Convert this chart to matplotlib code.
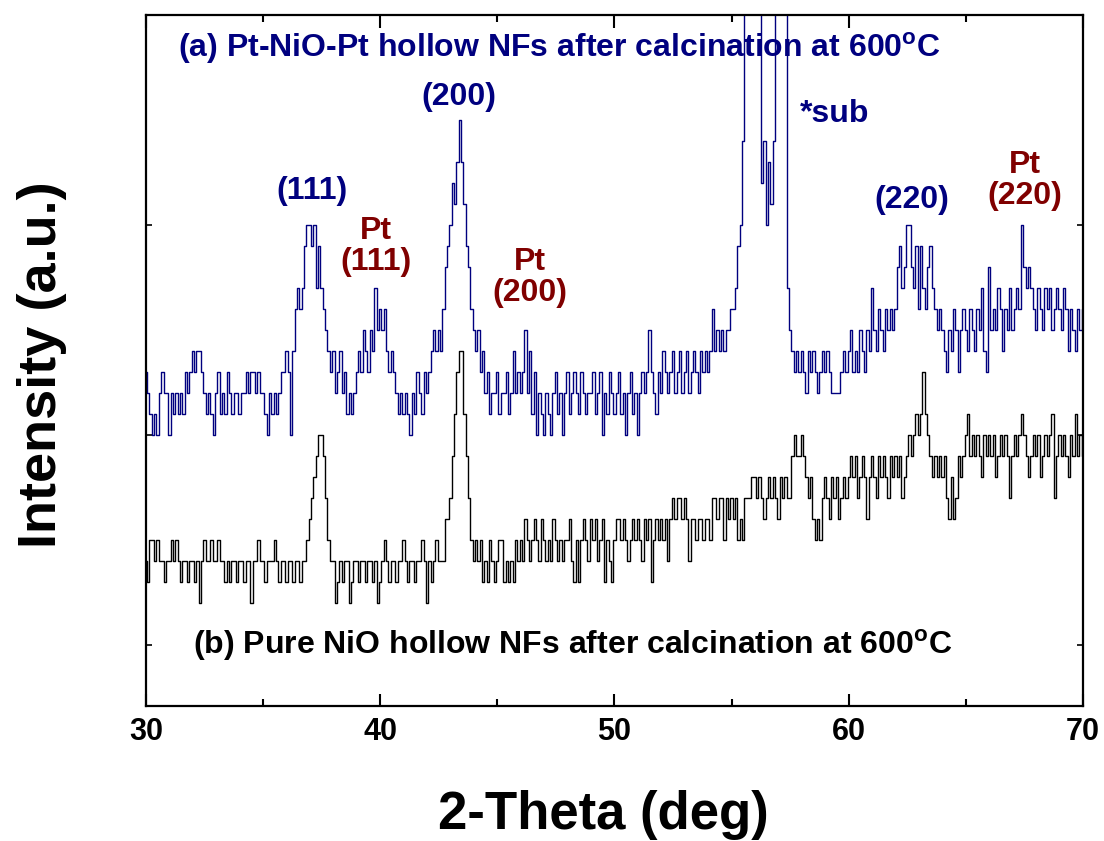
import numpy as np
import matplotlib
matplotlib.use('Agg')
import matplotlib.pyplot as plt
from matplotlib.ticker import MultipleLocator

plt.rcParams['font.family'] = ['Liberation Sans', 'DejaVu Sans']
plt.rcParams['font.weight'] = 'bold'
plt.rcParams['mathtext.fontset'] = 'custom'
plt.rcParams['mathtext.rm'] = 'Liberation Sans:bold'
plt.rcParams['mathtext.bf'] = 'Liberation Sans:bold'

# 2-theta from 30 to 70 deg, step 0.1
two_theta = np.round(np.arange(30.0, 70.05, 0.1), 1)

# (a) Pt-NiO-Pt, counts read per 0.1 deg (one row = one degree)
pt_nio_pt = [
    16, 15, 14, 13, 14, 13, 15, 16, 15, 15,   # 30
    13, 15, 14, 15, 14, 15, 14, 16, 15, 16,   # 31
    17, 16, 17, 17, 16, 15, 14, 15, 14, 13,   # 32
    15, 16, 14, 15, 14, 16, 15, 14, 15, 15,   # 33
    14, 15, 15, 16, 15, 16, 16, 15, 16, 15,   # 34
    15, 14, 13, 15, 14, 15, 14, 15, 16, 16,   # 35
    17, 16, 13, 17, 19, 20, 19, 20, 22, 23,   # 36
    23, 22, 23, 20, 22, 20, 19, 18, 17, 16,   # 37
    17, 15, 16, 17, 15, 16, 14, 15, 14, 15,   # 38
    16, 17, 16, 18, 17, 16, 18, 17, 20, 18,   # 39
    19, 18, 19, 17, 16, 17, 16, 15, 14, 15,   # 40
    14, 15, 14, 13, 15, 14, 16, 15, 14, 16,   # 41
    15, 16, 17, 18, 17, 18, 17, 19, 21, 22,   # 42
    23, 25, 24, 26, 28, 26, 24, 22, 21, 19,   # 43
    18, 17, 18, 16, 17, 15, 16, 14, 15, 15,   # 44
    16, 14, 15, 15, 16, 14, 15, 17, 15, 16,   # 45
    15, 16, 18, 15, 17, 14, 16, 13, 15, 14,   # 46
    13, 15, 14, 13, 15, 16, 14, 15, 13, 15,   # 47
    16, 14, 15, 16, 15, 14, 16, 15, 14, 15,   # 48
    15, 16, 14, 15, 16, 13, 15, 14, 16, 15,   # 49
    14, 15, 16, 14, 15, 13, 15, 16, 14, 15,   # 50
    13, 15, 16, 15, 16, 18, 16, 15, 14, 16,   # 51
    15, 17, 16, 15, 16, 17, 15, 16, 17, 15,   # 52
    16, 17, 15, 16, 17, 16, 15, 17, 16, 17,   # 53
    16, 17, 19, 17, 18, 17, 18, 17, 18, 18,   # 54
    19, 19, 20, 22, 23, 27, 40, 40, 40, 40,   # 55
    40, 40, 40, 25, 27, 23, 26, 24, 27, 40,   # 56
    40, 40, 40, 40, 20, 18, 17, 16, 17, 16,   # 57
    17, 16, 15, 17, 16, 17, 16, 15, 16, 17,   # 58
    16, 17, 16, 15, 15, 15, 15, 16, 17, 16,   # 59
    17, 18, 16, 17, 16, 18, 17, 16, 18, 17,   # 60
    20, 18, 17, 19, 18, 17, 19, 18, 19, 18,   # 61
    19, 21, 22, 20, 21, 23, 23, 21, 20, 22,   # 62
    19, 22, 20, 19, 21, 22, 20, 19, 18, 19,   # 63
    18, 17, 16, 18, 17, 19, 18, 16, 18, 19,   # 64
    18, 17, 19, 18, 17, 19, 18, 20, 17, 16,   # 65
    21, 18, 19, 18, 20, 19, 17, 19, 18, 20,   # 66
    18, 19, 20, 19, 23, 21, 20, 21, 20, 19,   # 67
    18, 20, 19, 18, 20, 19, 20, 18, 19, 20,   # 68
    19, 18, 20, 19, 17, 19, 18, 17, 19, 18,   # 69
    19,
]

# (b) pure NiO
pure_nio = [
    7, 6, 8, 8, 7, 8, 7, 7, 6, 7,   # 30
    7, 8, 7, 8, 7, 6, 7, 7, 6, 7,   # 31
    7, 6, 7, 5, 7, 8, 7, 7, 8, 7,   # 32
    7, 8, 7, 7, 6, 7, 6, 7, 7, 6,   # 33
    7, 7, 6, 7, 7, 5, 7, 7, 8, 7,   # 34
    7, 6, 7, 7, 7, 8, 7, 6, 7, 7,   # 35
    6, 7, 7, 6, 7, 7, 6, 7, 7, 8,   # 36
    9, 10, 11, 12, 13, 13, 12, 10, 8, 7,   # 37
    7, 5, 6, 7, 6, 7, 7, 5, 6, 7,   # 38
    7, 6, 7, 7, 6, 7, 7, 6, 7, 5,   # 39
    6, 7, 8, 7, 6, 7, 7, 6, 7, 7,   # 40
    8, 7, 6, 7, 7, 6, 7, 7, 8, 7,   # 41
    5, 7, 6, 7, 8, 7, 7, 7, 9, 9,   # 42
    10, 12, 14, 16, 17, 17, 14, 12, 10, 8,   # 43
    7, 8, 7, 8, 6, 7, 6, 8, 7, 6,   # 44
    7, 8, 8, 6, 7, 6, 7, 6, 8, 7,   # 45
    8, 7, 9, 8, 7, 8, 9, 8, 7, 9,   # 46
    8, 7, 8, 7, 9, 8, 7, 8, 7, 8,   # 47
    8, 9, 7, 6, 8, 6, 8, 9, 8, 7,   # 48
    9, 8, 9, 7, 8, 9, 6, 8, 7, 6,   # 49
    8, 9, 9, 8, 9, 8, 7, 8, 9, 8,   # 50
    9, 8, 7, 9, 8, 9, 6, 8, 9, 8,   # 51
    9, 8, 9, 7, 9, 10, 9, 10, 10, 9,   # 52
    10, 9, 7, 9, 9, 8, 9, 9, 8, 9,   # 53
    9, 8, 10, 10, 9, 10, 10, 8, 10, 9,   # 54
    10, 9, 10, 8, 9, 8, 10, 10, 10, 11,   # 55
    11, 10, 11, 10, 9, 10, 11, 10, 11, 10,   # 56
    9, 11, 10, 11, 10, 10, 12, 13, 12, 12,   # 57
    13, 12, 11, 10, 11, 9, 8, 9, 8, 10,   # 58
    11, 10, 9, 11, 10, 11, 9, 10, 11, 10,   # 59
    11, 12, 11, 12, 10, 11, 12, 11, 9, 11,   # 60
    12, 11, 10, 12, 11, 12, 11, 10, 12, 11,   # 61
    12, 11, 12, 10, 11, 12, 13, 12, 13, 14,   # 62
    13, 14, 16, 14, 13, 12, 11, 12, 11, 12,   # 63
    11, 12, 10, 9, 11, 9, 10, 12, 11, 12,   # 64
    13, 14, 12, 13, 12, 13, 12, 11, 13, 12,   # 65
    13, 12, 13, 11, 12, 13, 12, 13, 12, 10,   # 66
    12, 13, 12, 13, 14, 13, 12, 11, 12, 13,   # 67
    12, 13, 11, 12, 13, 12, 13, 14, 10, 12,   # 68
    13, 12, 13, 12, 11, 13, 12, 14, 12, 13,   # 69
    12,
]

navy = '#00007f'
dark_red = '#800000'

fig = plt.figure(figsize=(11.04, 8.41), dpi=100)
ax = fig.add_axes([0.1322, 0.1605, 0.8487, 0.8217])

ax.plot(two_theta, pt_nio_pt, drawstyle='steps-mid', color=navy, lw=1.0)
ax.plot(two_theta, pure_nio, drawstyle='steps-mid', color='black', lw=1.0)

ax.set_xlim(30, 70)
ax.set_ylim(0.1, 33.0)
ax.xaxis.set_major_locator(MultipleLocator(10))
ax.xaxis.set_minor_locator(MultipleLocator(5))
ax.set_yticks([3, 13, 23])
ax.set_yticklabels([])
ax.tick_params(axis='x', which='major', direction='in', length=9, width=1.5,
               top=True, labelsize=22, pad=8)
ax.tick_params(axis='x', which='minor', direction='in', length=5, width=1.5, top=True)
ax.tick_params(axis='y', direction='in', length=4, width=1.2, right=True)
for lab in ax.get_xticklabels():
    lab.set_fontweight('bold')
for sp in ax.spines.values():
    sp.set_linewidth(1.6)

fs = 23
ax.text(47.65, 31.4, '(a) Pt-NiO-Pt hollow NFs after calcination at 600$^{\\mathbf{o}}$C',
        color=navy, fontsize=fs, fontweight='bold', ha='center', va='center')
ax.text(48.2, 3.0, '(b) Pure NiO hollow NFs after calcination at 600$^{\\mathbf{o}}$C',
        color='black', fontsize=fs, fontweight='bold', ha='center', va='center')

ax.text(43.38, 29.1, '(200)', color=navy, fontsize=fs, fontweight='bold', ha='center', va='center')
ax.text(37.09, 24.6, '(111)', color=navy, fontsize=fs, fontweight='bold', ha='center', va='center')
ax.text(62.69, 24.2, '(220)', color=navy, fontsize=fs, fontweight='bold', ha='center', va='center')
ax.text(59.4, 28.3, '*sub', color=navy, fontsize=fs, fontweight='bold', ha='center', va='center')

ax.text(39.83, 21.96, 'Pt\n(111)', color=dark_red, fontsize=fs, fontweight='bold',
        ha='center', va='center', linespacing=1.05)
ax.text(46.37, 20.5, 'Pt\n(200)', color=dark_red, fontsize=fs, fontweight='bold',
        ha='center', va='center', linespacing=1.05)
ax.text(67.52, 25.1, 'Pt\n(220)', color=dark_red, fontsize=fs, fontweight='bold',
        ha='center', va='center', linespacing=1.05)

fig.text(603 / 1104, 1 - 815 / 841, '2-Theta (deg)', fontsize=38, fontweight='bold',
         ha='center', va='center')
fig.text(42 / 1104, 1 - 365 / 841, 'Intensity (a.u.)', fontsize=39, fontweight='bold',
         ha='center', va='center', rotation=90)

fig.savefig('out.png', dpi=100)
